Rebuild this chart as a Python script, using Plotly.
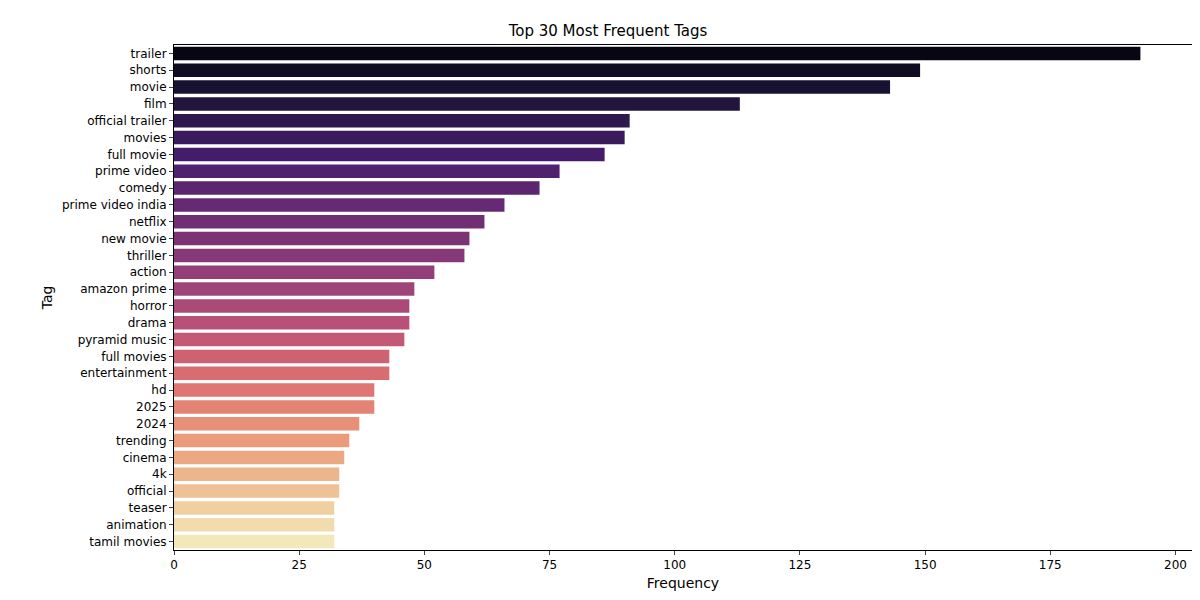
import plotly.graph_objects as go
import plotly.colors as pc
import numpy as np
import colorsys

tags = ["trailer", "shorts", "movie", "film", "official trailer", "movies", "full movie",
        "prime video", "comedy", "prime video india", "netflix", "new movie", "thriller",
        "action", "amazon prime", "horror", "drama", "pyramid music", "full movies",
        "entertainment", "hd", "2025", "2024", "trending", "cinema", "4k", "official",
        "teaser", "animation", "tamil movies"]
counts = [193, 149, 143, 113, 91, 90, 86, 77, 73, 66, 62, 59, 58, 52, 48, 47, 47, 46,
          43, 43, 40, 40, 37, 35, 34, 33, 33, 32, 32, 32]
x_ticks = [0, 25, 50, 75, 100, 125, 150, 175, 200]

# seaborn-style magma palette: evenly spaced, ends dropped, desaturated to 0.75
pts = np.linspace(0, 1, len(tags) + 2)[1:-1]
raw = pc.sample_colorscale("Magma", list(pts), colortype="tuple")
colors = []
for r, g, b in raw:
    h, l, s = colorsys.rgb_to_hls(r, g, b)
    r2, g2, b2 = colorsys.hls_to_rgb(h, l, s * 0.75)
    colors.append(f"rgb({r2*255:.0f},{g2*255:.0f},{b2*255:.0f})")

fig = go.Figure(go.Bar(
    x=counts, y=tags, orientation="h",
    marker=dict(color=colors, line=dict(width=0)),
))

fig.update_layout(
    width=1200, height=600,
    paper_bgcolor="white", plot_bgcolor="white",
    margin=dict(l=166, r=16, t=37, b=58),
    bargap=0.2,
    showlegend=False,
    font=dict(family="DejaVu Sans", size=12, color="black"),
    title=dict(text="Top 30 Most Frequent Tags", x=0.5, xanchor="center",
               y=0.962, yanchor="middle", font=dict(size=15)),
)
fig.update_xaxes(
    range=[0, 203.3], tickvals=x_ticks, ticks="outside", ticklen=4, automargin=False,
    showgrid=False, zeroline=False, showline=True, linecolor="black", mirror=True,
    title=dict(text="Frequency", standoff=6),
)
fig.update_yaxes(
    autorange="reversed", ticks="outside", ticklen=4, automargin=False,
    showgrid=False, showline=True, linecolor="black", mirror=True,
    title=dict(text="Tag", standoff=6),
)

fig.write_html("out.html")
